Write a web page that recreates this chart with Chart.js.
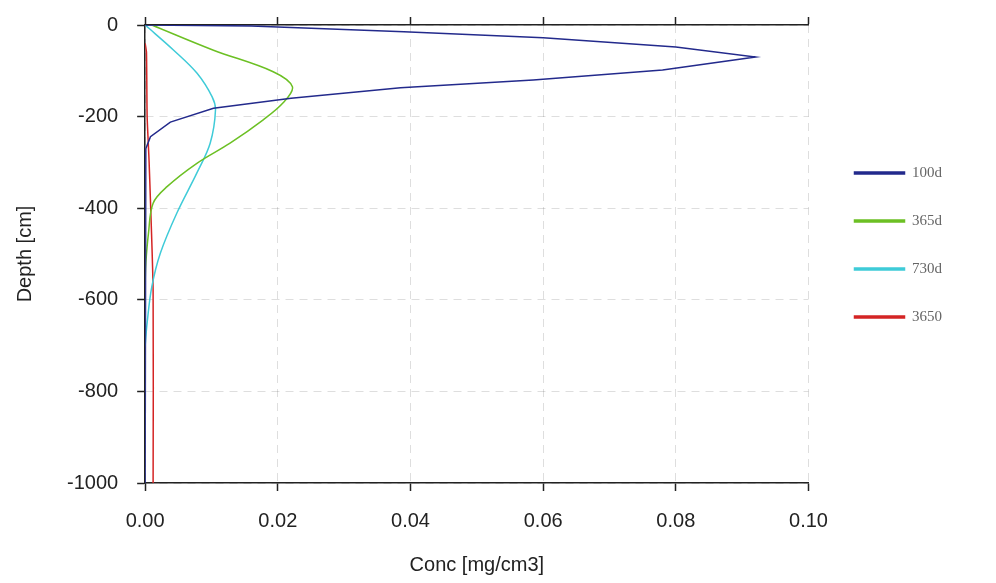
<!DOCTYPE html>
<html>
<head>
<meta charset="utf-8">
<script src="https://cdn.jsdelivr.net/npm/chart.js@4"></script>
<style>
  html, body { margin: 0; padding: 0; background: #fff; }
  #wrap { width: 996px; height: 583px; }
</style>
</head>
<body>
<div id="wrap"><canvas id="profileChart"></canvas></div>
<script>
// series labels
const seriesNames = ['100d', '365d', '730d', '3650'];

// concentration [mg/cm3] and depth [cm] per profile
const conc100 = [0, 0.016, 0.025, 0.039, 0.060, 0.080, 0.092, 0.078, 0.0585, 0.0385, 0.022, 0.0103, 0.0038, 0.0008, 0.0001, 0, 0];
const depth100 = [0, -2, -7, -15, -28, -48, -70, -98, -120, -137, -160, -182, -212, -244, -270, -300, -1000];

const conc365 = [0.001, 0.0103, 0.0193, 0.0222, 0.0208, 0.0178, 0.0128, 0.0078, 0.0033, 0.0012, 0.0005, 0.0001, 0];
const depth365 = [0, -55, -102, -135, -170, -207, -258, -302, -353, -389, -455, -520, -560];

const conc730 = [0, 0.0043, 0.0078, 0.0101, 0.0106, 0.0098, 0.0078, 0.0048, 0.0023, 0.001, 0.0003, 0];
const depth730 = [0, -55, -105, -157, -186, -258, -323, -410, -498, -572, -650, -700];

const conc3650 = [0, 0.0002, 0.0003, 0.0006, 0.0012, 0.0012];
const depth3650 = [-40, -60, -200, -300, -580, -1000];

// axis ticks
const concTicks = [0, 0.02, 0.04, 0.06, 0.08, 0.10];
const depthTicks = [0, -200, -400, -600, -800, -1000];

const colors = ['#232a8c', '#6cc024', '#3fcbd8', '#d42424'];

function toPoints(xs, ys) {
    return xs.map((x, i) => ({ x: x, y: ys[i] }));
}

const profiles = [
    toPoints(conc100, depth100),
    toPoints(conc365, depth365),
    toPoints(conc730, depth730),
    toPoints(conc3650, depth3650)
];
const tensions = [0, 0.35, 0.35, 0.2];

window.onload = () => {
    const ctx = document.getElementById('profileChart').getContext('2d');
    const gridStyle = {
        color: 'rgba(0,0,0,0.13)',
        tickColor: '#222',
        tickLength: 8,
        tickWidth: 1.5
    };
    const font = { family: '"Liberation Sans", Arial, sans-serif', size: 20 };

    new Chart(ctx, {
        type: 'scatter',
        data: {
            datasets: profiles.map((pts, i) => ({
                label: seriesNames[i],
                data: pts,
                showLine: true,
                borderColor: colors[i],
                backgroundColor: colors[i],
                borderWidth: 1.5,
                pointRadius: 0,
                tension: tensions[i]
            }))
        },
        options: {
            responsive: true,
            maintainAspectRatio: false,
            animation: false,
            layout: { padding: { top: 17, left: 13, right: 44, bottom: 6 } },
            plugins: {
                tooltip: { enabled: false },
                legend: {
                    position: 'right',
                    align: 'start',
                    fullSize: false,
                    // empty title only pushes the entries down
                    title: { display: true, text: '', font: { size: 12 }, padding: { top: 93, bottom: 0 } },
                    labels: {
                        boxWidth: 50,
                        boxHeight: 2,
                        padding: 33,
                        color: '#666',
                        font: { family: '"Liberation Serif", serif', size: 15 }
                    }
                }
            },
            scales: {
                x: {
                    type: 'linear',
                    position: 'bottom',
                    min: 0,
                    max: 0.1,
                    afterBuildTicks: axis => { axis.ticks = concTicks.map(v => ({ value: v })); },
                    ticks: {
                        color: '#222',
                        font: font,
                        padding: 18,
                        callback: v => v.toFixed(2)
                    },
                    grid: gridStyle,
                    border: { color: '#222', width: 1.5, dash: [8, 6] },
                    title: { display: true, text: 'Conc [mg/cm3]', color: '#222', font: font, padding: { top: 2, bottom: 0 } }
                },
                xTop: {
                    type: 'linear',
                    position: 'top',
                    min: 0,
                    max: 0.1,
                    afterBuildTicks: axis => { axis.ticks = concTicks.map(v => ({ value: v })); },
                    ticks: { display: false },
                    grid: { drawOnChartArea: false, tickColor: '#222', tickLength: 8, tickWidth: 1.5 },
                    border: { color: '#222', width: 1.5 }
                },
                y: {
                    type: 'linear',
                    min: -1000,
                    max: 0,
                    afterBuildTicks: axis => { axis.ticks = depthTicks.map(v => ({ value: v })); },
                    // the "0" label may poke above the plot, like the original
                    afterFit: axis => { axis.paddingTop = 0; axis.paddingBottom = 0; },
                    ticks: {
                        color: '#222',
                        font: font,
                        padding: 19,
                        callback: v => String(v)
                    },
                    grid: gridStyle,
                    border: { color: '#222', width: 1.5, dash: [8, 6] },
                    title: { display: true, text: 'Depth [cm]', color: '#222', font: font, padding: { top: 0, bottom: 11 } }
                },
                // empty spacer between plot and legend
                yGap: {
                    type: 'linear',
                    position: 'right',
                    min: -1000,
                    max: 0,
                    ticks: { display: false },
                    grid: { drawOnChartArea: false, drawTicks: false },
                    border: { display: false },
                    afterFit: axis => { axis.width = 13; }
                }
            }
        }
    });
};
</script>
</body>
</html>
